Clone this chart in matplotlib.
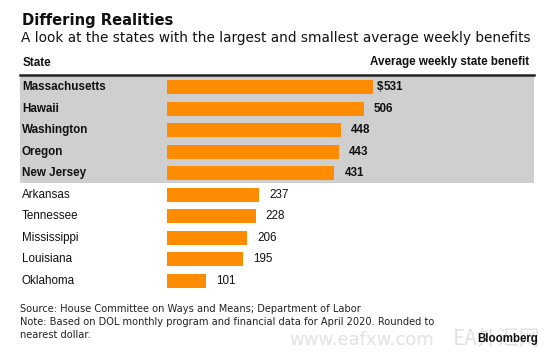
import matplotlib.pyplot as plt

# top five and bottom five states, average weekly benefit ($), April 2020
states = ['Massachusetts', 'Hawaii', 'Washington', 'Oregon', 'New Jersey',
          'Arkansas', 'Tennessee', 'Mississippi', 'Louisiana', 'Oklahoma']
benefits = [531, 506, 448, 443, 431, 237, 228, 206, 195, 101]
n_top = 5

title = 'Differing Realities'
subtitle = 'A look at the states with the largest and smallest average weekly benefits'
col_left = 'State'
col_right = 'Average weekly state benefit'
source = 'Source: House Committee on Ways and Means; Department of Labor'
note = ['Note: Based on DOL monthly program and financial data for April 2020. Rounded to',
        'nearest dollar.']

W, H = 550, 352
orange = '#ff8c00'
band = '#cfcfcf'
ink = '#111111'
lab_font = 'Liberation Sans'

fig = plt.figure(figsize=(W / 100, H / 100), dpi=100)
fig.patch.set_facecolor('white')

def px(x, y):
    # pixel position (from top-left) -> figure fraction
    return x / W, 1 - y / H

# axes covers the table panel, 20..534 px wide, 75..292 px tall
ax = fig.add_axes([20 / W, 1 - 292 / H, 514 / W, 217 / H])
ax.set_xlim(-378.4, 944.7)
ax.set_ylim(9.51, -0.557)
ax.axis('off')

ax.axhspan(-0.557, 4.47, color=band, lw=0, zorder=0)
ax.axhline(-0.557, color='#222222', lw=1.8, zorder=3, clip_on=False)

ypos = list(range(len(states)))
ax.barh(ypos, benefits, height=0.65, color=orange, zorder=2)

ytr = ax.get_yaxis_transform()
for i, (s, v) in enumerate(zip(states, benefits)):
    w = 'bold' if i < n_top else 'normal'
    ax.text(2 / 514, i, s, transform=ytr, ha='left', va='center',
            fontsize=8.4, fontweight=w, family=lab_font, color=ink)
    ax.annotate(str(v), (v, i), xytext=(7.2, 0), textcoords='offset points',
                ha='left', va='center', fontsize=8.4, fontweight=w,
                family=lab_font, color=ink)
    if i == 0:
        ax.annotate('$', (v, i), xytext=(7.2, 0), textcoords='offset points',
                    ha='right', va='center', fontsize=8.4, fontweight=w,
                    family=lab_font, color=ink)

# headings
fig.text(*px(21.5, 25.5), title, fontsize=10.6, fontweight='bold', color=ink,
         family='DejaVu Sans', va='baseline')
fig.text(*px(21, 42), subtitle, fontsize=9.8, color=ink,
         family='DejaVu Sans', va='baseline')
fig.text(*px(23, 65.5), col_left, fontsize=8.4, fontweight='bold', color=ink,
         family=lab_font, va='baseline')
fig.text(*px(529.5, 65.5), col_right, fontsize=8.4, fontweight='bold', color=ink,
         family=lab_font, va='baseline', ha='right')

# watermark
fig.text(*px(289, 345), 'www.eafxw.com', fontsize=13, color='#e2e2e2',
         family='DejaVu Sans', va='baseline')
fig.text(*px(453, 345), 'EA外汇网', fontsize=15, color='#e2e2e2',
         family=['Noto Sans CJK SC', 'DejaVu Sans'], va='baseline')

# footer
fig.text(*px(20, 312), source, fontsize=7.15, color='#222222',
         family='DejaVu Sans', va='baseline')
for k, line in enumerate(note):
    fig.text(*px(20, 325 + 12.5 * k), line, fontsize=7.15, color='#222222',
             family='DejaVu Sans', va='baseline')
fig.text(*px(538, 342), 'Bloomberg', fontsize=8.3, fontweight='bold',
         color=ink, family=lab_font, va='baseline', ha='right')

fig.savefig('out.png', dpi=100, facecolor='white')
